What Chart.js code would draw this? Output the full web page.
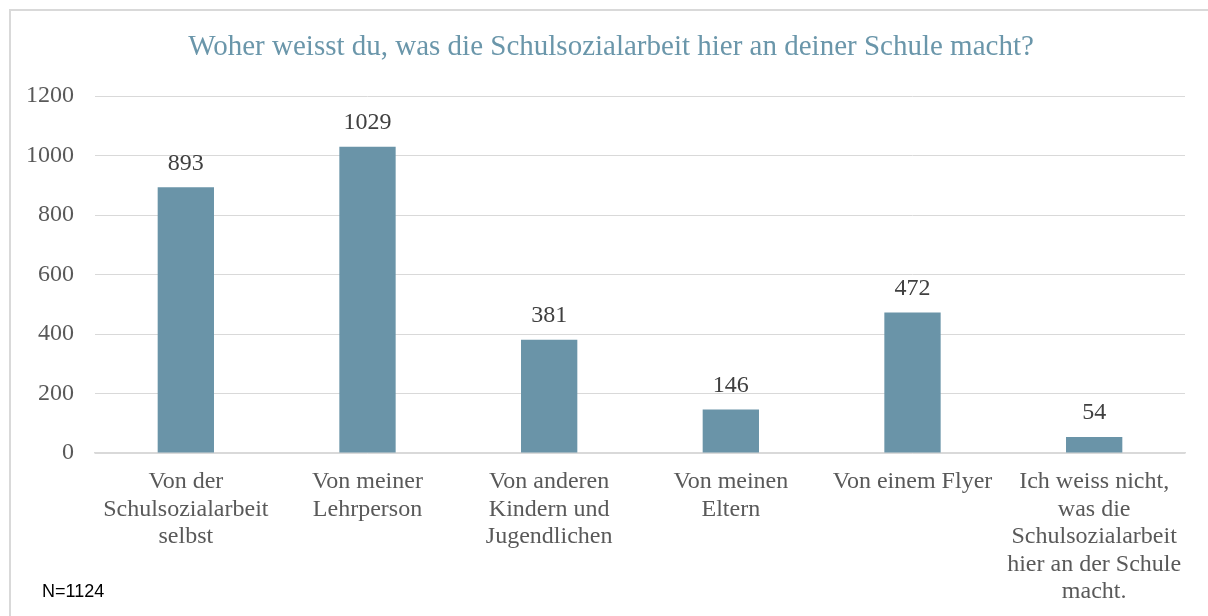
<!DOCTYPE html>
<html>
<head>
<meta charset="utf-8">
<script src="https://cdn.jsdelivr.net/npm/chart.js@4"></script>
<style>
  body { margin: 0; background: #fff; }
  #wrap { position: relative; width: 1208px; height: 616px; overflow: hidden; }
  #frame { position: absolute; left: 9px; top: 9px; width: 1300px; height: 700px; border: 2px solid #d9d9d9; box-sizing: border-box; }
  #note { position: absolute; left: 42px; top: 581px; font: 18px "Liberation Sans", sans-serif; color: #000; }
  canvas { position: absolute; left: 0; top: 0; }
</style>
</head>
<body>
<div id="wrap">
  <div id="frame"></div>
  <canvas id="barChart" width="1208" height="616"></canvas>
  <div id="note">N=1124</div>
</div>
<script>
// Woher weisst du ... Balkendiagramm
const chartTitle = 'Woher weisst du, was die Schulsozialarbeit hier an deiner Schule macht?';
const categories = [
  ['Von der', 'Schulsozialarbeit', 'selbst'],
  ['Von meiner', 'Lehrperson'],
  ['Von anderen', 'Kindern und', 'Jugendlichen'],
  ['Von meinen', 'Eltern'],
  ['Von einem Flyer'],
  ['Ich weiss nicht,', 'was die', 'Schulsozialarbeit', 'hier an der Schule', 'macht.']
];
const values = [893, 1029, 381, 146, 472, 54];
const yTicks = [0, 200, 400, 600, 800, 1000, 1200];

const serif = '"Liberation Serif", "Times New Roman", serif';

// Titel + Werte über den Balken
const valueLabels = {
  id: 'valueLabels',
  afterDatasetsDraw(chart) {
    const ctx = chart.ctx;
    const meta = chart.getDatasetMeta(0);
    ctx.save();
    ctx.textAlign = 'center';
    ctx.textBaseline = 'middle';
    ctx.font = '29px ' + serif;
    ctx.fillStyle = 'rgb(106, 150, 170)';
    ctx.fillText(chartTitle, 611, 47);
    ctx.font = '24px ' + serif;
    ctx.fillStyle = '#404040';
    meta.data.forEach((bar, i) => {
      ctx.fillText(String(values[i]), bar.x, bar.y - 24);
    });
    ctx.restore();
  }
};

const barConfig = {
  type: 'bar',
  data: {
    labels: categories,
    datasets: [{
      data: values,
      backgroundColor: 'rgb(106, 148, 168)',
      barPercentage: 0.31,
      categoryPercentage: 1
    }]
  },
  options: {
    responsive: false,
    animation: false,
    layout: { padding: { left: 0, right: 23, top: 96, bottom: 0 } },
    plugins: {
      legend: { display: false },
      tooltip: { enabled: false },
      title: { display: false }
    },
    scales: {
      x: {
        grid: { display: false, drawTicks: false },
        border: { color: '#d9d9d9', width: 1.5 },
        ticks: {
          color: '#595959',
          font: { family: serif, size: 24, lineHeight: 1.15 },
          padding: 15,
          maxRotation: 0,
          autoSkip: false
        },
        afterFit(scale) { scale.height = 163; }
      },
      y: {
        min: 0,
        max: 1200,
        afterBuildTicks(scale) { scale.ticks = yTicks.map(v => ({ value: v })); },
        grid: { color: '#d9d9d9', drawTicks: false },
        border: { display: false },
        ticks: {
          color: '#595959',
          font: { family: serif, size: 24 },
          padding: 21,
          callback: (v) => String(v)
        },
        afterFit(scale) { scale.width = 95; }
      }
    }
  },
  plugins: [valueLabels]
};

const barChart = new Chart(document.getElementById('barChart'), barConfig);
</script>
</body>
</html>
